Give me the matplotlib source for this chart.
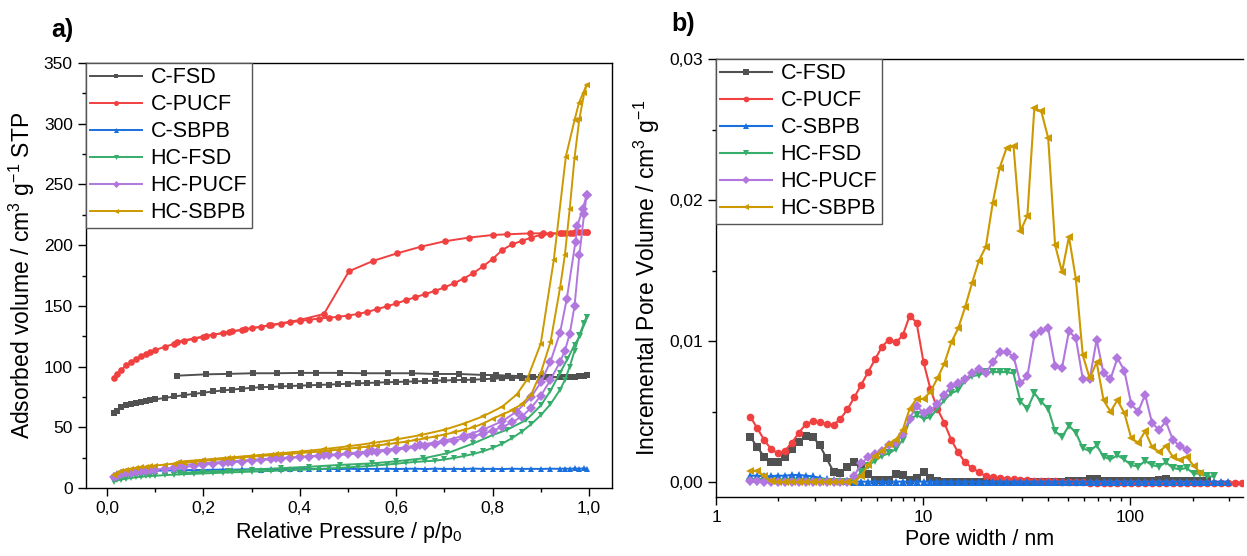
import numpy as np
import matplotlib
matplotlib.use("Agg")
import matplotlib.pyplot as plt
from matplotlib.ticker import MultipleLocator, FuncFormatter, LogLocator, NullFormatter

plt.rcParams['font.family'] = ['Liberation Sans', 'DejaVu Sans']
plt.rcParams['mathtext.default'] = 'regular'

names = ['C-FSD', 'C-PUCF', 'C-SBPB', 'HC-FSD', 'HC-PUCF', 'HC-SBPB']
colors = ['#515151', '#F14040', '#1A6FDF', '#37AD6B', '#B177DE', '#CC9900']
markers = ['s', 'o', '^', 'v', 'D', '<']

# ---- a) isotherms: adsorption branch on a shared p/p0 list
p_ads = [0.014, 0.02, 0.03, 0.04, 0.05, 0.06, 0.07, 0.08, 0.09, 0.10, 0.12, 0.14,
         0.16, 0.18, 0.20, 0.22, 0.24, 0.26, 0.28, 0.30, 0.32, 0.34, 0.36, 0.38,
         0.40, 0.42, 0.44, 0.46, 0.48, 0.50, 0.52, 0.54, 0.56, 0.58, 0.60, 0.62,
         0.64, 0.66, 0.68, 0.70, 0.72, 0.74, 0.76, 0.78, 0.80, 0.82, 0.84, 0.86,
         0.88, 0.90, 0.92, 0.94, 0.95, 0.96, 0.97, 0.98, 0.99, 0.995]

ads_cfsd = [61.5, 63.5, 66.5, 68.2, 69.2, 70, 70.8, 71.6, 72.4, 73, 74.2, 75.4,
            76.5, 77.5, 78.5, 79.5, 80.3, 81.1, 81.8, 82.5, 83, 83.3, 83.6, 84,
            84.3, 84.6, 84.9, 85.2, 85.5, 85.8, 86.1, 86.5, 86.8, 87.1, 87.3, 87.6,
            87.8, 88.1, 88.4, 88.6, 88.8, 89, 89.2, 89.6, 90, 90.3, 90.6, 90.9,
            91.1, 91.3, 91.3, 91.4, 91.4, 91.5, 91.6, 91.9, 92.3, 92.7]
ads_cpucf = [90.3, 94, 97.5, 101, 103.8, 106.3, 108.3, 110.3, 112, 113.6, 116.3, 118.8,
             121, 122.8, 124.5, 126.2, 127.6, 129, 130.3, 131.6, 132.8, 134, 135.3, 136.4,
             137.5, 138.6, 139.5, 140.3, 141, 142, 143.3, 145, 147.3, 149.5, 152, 154.6,
             157.2, 159.6, 162.3, 165.2, 168.6, 172.5, 177, 182.5, 188.6, 196, 200.6, 203.4,
             206.2, 208.5, 209.3, 209.8, 210, 210.3, 210.6, 210.8, 211, 211.2]
ads_csbpb = [10.5, 12, 12.8, 13.2, 13.5, 13.6, 13.8, 14, 14.1, 14.2, 14.4, 14.5,
             14.7, 14.8, 14.9, 15, 15.2, 15.1, 15.3, 15.4, 15.2, 15.5, 15.4, 15.6,
             15.5, 15.7, 15.6, 15.8, 15.5, 15.9, 15.6, 15.8, 15.7, 15.9, 15.6, 15.8,
             15.9, 15.6, 15.9, 15.7, 15.8, 15.6, 16, 15.7, 15.8, 15.6, 15.9, 15.7,
             15.8, 15.7, 15.9, 15.8, 16, 15.8, 16.1, 15.9, 16.2, 16]
ads_hcfsd = [5.2, 6.2, 7, 7.7, 8.3, 8.8, 9.2, 9.6, 9.9, 10.1, 10.6, 11,
             11.4, 11.7, 12, 12.3, 12.6, 12.9, 13.2, 13.5, 13.8, 14.1, 14.4, 14.7,
             15, 15.3, 15.7, 16.1, 16.5, 17, 17.5, 18, 18.6, 19.3, 20, 20.8,
             21.5, 22, 22.5, 23.5, 24.8, 26.3, 28, 30.2, 33, 36.5, 41, 46.3,
             52.5, 60, 69, 81, 89, 100, 113, 126, 136, 141]
ads_hcpucf = [8.8, 10, 11.2, 12, 12.7, 13.3, 13.8, 14.3, 14.8, 15.2, 16, 16.8,
              17.5, 18.2, 19.2, 20, 20.6, 21.2, 21.8, 22.4, 23, 23.6, 24.2, 24.8,
              25.3, 25.8, 26.3, 26.8, 27.2, 27.7, 28.3, 29, 29.8, 30.7, 31.6, 32.6,
              33.7, 34.9, 36.2, 37.6, 39.1, 40.8, 42.6, 44.7, 47.2, 50.2, 54, 58.7,
              66, 76, 89, 104, 113, 127, 150, 192, 226, 241]
ads_hcsbpb = [10.7, 12.3, 13.8, 14.9, 15.8, 16.5, 17.1, 17.6, 18.1, 18.5, 19.3, 20.1,
              20.9, 21.6, 22.3, 23, 23.7, 24.4, 25.1, 25.8, 26.4, 27, 27.6, 28.2,
              28.8, 29.4, 30, 30.8, 31.6, 32.4, 33.2, 34.1, 35, 36, 37, 38.2,
              39.5, 40.9, 42.4, 44, 45.8, 47.8, 50, 53, 57, 60.5, 64, 69,
              77, 95, 120, 165, 192, 230, 272, 304, 325, 332]

# desorption branches (own p lists)
p_des_cfsd = [0.995, 0.967, 0.94, 0.912, 0.884, 0.857, 0.832, 0.808, 0.78, 0.731, 0.682,
              0.632, 0.583, 0.533, 0.483, 0.434, 0.402, 0.353, 0.303, 0.254, 0.205, 0.145]
des_cfsd = [92.7, 91.3, 91.3, 91.2, 91.7, 92.2, 92.5, 93, 93.1, 93.9, 93.9,
            94.5, 94.5, 94.5, 94.8, 94.8, 94.8, 94.5, 94.5, 94, 93.6, 92.5]
p_des_cpucf = [0.995, 0.967, 0.943, 0.905, 0.878, 0.829, 0.801, 0.751, 0.701, 0.652,
               0.602, 0.552, 0.502, 0.45, 0.40, 0.337, 0.286, 0.254, 0.205, 0.146]
des_cpucf = [211, 210.3, 209.7, 209.7, 209.7, 208.9, 208.4, 206.2, 203.2, 198.8,
             193.3, 187, 178.5, 143.3, 138.4, 134, 130.7, 128.5, 125.2, 120.5]
p_des_hcfsd = [0.995, 0.99, 0.981, 0.97, 0.955, 0.94, 0.92, 0.9, 0.87, 0.83, 0.8, 0.76,
               0.705, 0.656, 0.6, 0.55, 0.483, 0.42, 0.36, 0.3, 0.25, 0.2, 0.15]
des_hcfsd = [141, 135, 125, 118, 106, 95, 80, 68, 56, 48, 43.6, 36.7,
             28.5, 24.4, 22, 20.3, 19, 17.5, 16.3, 15.2, 14.2, 13.3, 12.4]
p_des_hcpucf = [0.995, 0.987, 0.976, 0.972, 0.954, 0.94, 0.92, 0.9, 0.88, 0.85, 0.82, 0.78,
                0.74, 0.7, 0.65, 0.6, 0.55, 0.5, 0.45, 0.4, 0.35, 0.3, 0.25, 0.2, 0.15]
des_hcpucf = [241, 230, 216, 203, 156, 128, 104, 87, 75, 63, 55, 48,
              43, 39, 35.5, 32.5, 30.5, 28.5, 27, 25.7, 24.5, 23.2, 21.8, 20.3, 18.8]
p_des_hcsbpb = [0.995, 0.979, 0.970, 0.952, 0.927, 0.9, 0.871, 0.85, 0.82, 0.78, 0.74, 0.7,
                0.65, 0.6, 0.55, 0.5, 0.45, 0.4, 0.35, 0.3, 0.25, 0.2, 0.15]
des_hcsbpb = [332, 317, 303, 273, 188, 119, 89, 77, 67, 59, 53, 48,
              43.5, 40, 37, 34.3, 32, 30, 28.3, 26.6, 25, 23.3, 21.7]

ads_all = [ads_cfsd, ads_cpucf, ads_csbpb, ads_hcfsd, ads_hcpucf, ads_hcsbpb]
des_all = [(p_des_cfsd, des_cfsd), (p_des_cpucf, des_cpucf), None,
           (p_des_hcfsd, des_hcfsd), (p_des_hcpucf, des_hcpucf), (p_des_hcsbpb, des_hcsbpb)]

# ---- b) pore size distribution
pore_w = [1.466, 1.583, 1.710, 1.847, 1.995, 2.154, 2.326, 2.513, 2.714, 2.931,
          3.165, 3.418, 3.692, 3.987, 4.306, 4.651, 5.023, 5.425, 5.859, 6.328,
          6.834, 7.381, 7.971, 8.609, 9.298, 10.04, 10.84, 11.71, 12.65, 13.66,
          14.76, 15.94, 17.21, 18.59, 20.08, 21.68, 23.42, 25.29, 27.32, 29.50,
          31.86, 34.41, 37.16, 40.14, 43.35, 46.82, 50.56, 54.61, 58.98, 63.69,
          68.79, 74.29, 80.24, 86.66, 93.59, 101.1, 109.2, 117.9, 127.3, 137.5,
          148.5, 160.4, 173.2, 187.1, 202.1, 218.2, 235.7, 254.5, 274.9, 296.9,
          320.7, 346.3]

psd_cfsd = [0.00321, 0.00246, 0.0018, 0.0014, 0.0014, 0.00175, 0.00232, 0.00286, 0.00326, 0.00321,
            0.00262, 0.00168, 0.00073, 0.00062, 0.00109, 0.00144, 0.0012, 0.00057, 0.00014, 0.00018,
            0.00018, 0.0006, 0.0005, 0.00014, 0.0003, 0.00073, 0.0003, 0.00005, 0.00003, 0.00003,
            0.00003, 0.00003, 0.00003, 0.00003, 0.00003, 0.00003, 0.00003, 0.00003, 0.00003, 0.00003,
            0.00003, 0.00003, 0.00003, 0.00003, 0.00003, 0.00003, 0.00005, 0.00008, 0.0001, 0.00025,
            0.00025, 0.0001, 0.00005, 0.00005, 0.00005, 0.00005, 0.00005, 0.00008, 0.0001, 0.00015,
            0.0002, 0.0001, 0.00008, 0.00008, 0.00008, 0.00008, 0.00008]
psd_cpucf = [0.00463, 0.00381, 0.00298, 0.00232, 0.00203, 0.00222, 0.00279, 0.0035, 0.00411, 0.0043,
             0.00423, 0.00409, 0.00407, 0.00447, 0.00515, 0.006, 0.0069, 0.0078, 0.0087, 0.0096,
             0.0101, 0.0099, 0.0104, 0.0118, 0.0113, 0.0085, 0.0066, 0.0052, 0.0042, 0.0030,
             0.0021, 0.0014, 0.0010, 0.0007, 0.0004, 0.00035, 0.0003, 0.00025, 0.0002, 0.00015,
             0.00012, 0.0001, 0.00008, 0.00006, 0.00005, 0.00003, 0.00002, 0.0, -0.00002, -0.00004,
             -0.00004, -0.00004, -0.00004, -0.00004, -0.00004, -0.00004, -0.00004, -0.00004, -0.00004, -0.00004,
             -0.00004, -0.00004, -0.00004, -0.00004, -0.00004, -0.00004, -0.00004, -0.00004, -0.00004, -0.00004,
             -0.00004, -0.00004]
psd_csbpb = [0.00045, 0.00045, 0.0004, 0.00042, 0.00045, 0.00045, 0.0005, 0.0005, 0.00045, 0.0004,
             0.0003, 0.0002, 0.00012, 0.0001, 0.00005, 0.00003, 0.00003, 0.00003, 0.00003, 0.00003,
             0.00003, 0.00003, 0.00003, 0.00003, 0.00003, 0.00003, 0.00003, 0.00003, 0.00003, 0.00003,
             0.00003, 0.00003, 0.00003, 0.00003, 0.00003, 0.00003, 0.00003, 0.00003, 0.00003, 0.00003,
             0.00003, 0.00003, 0.00003, 0.00003, 0.00003, 0.00003, 0.00003, 0.00003, 0.00003, 0.00003,
             0.00003, 0.00003, 0.00003, 0.00003, 0.00003, 0.00003, 0.00003, 0.00003, 0.00003, 0.00003,
             0.00003, 0.00003, 0.00003, 0.00003, 0.00003, 0.00003, 0.00003, 0.00003, 0.00003, 0.00003]
psd_hcfsd = [0.00001, 0.00001, 0.00001, 0.00001, 0.00001, 0.00001, 0.00001, 0.00001, 0.00001, 0.00001,
             0.00001, 0.00001, 0.00001, 0.00001, 0.00001, 0.0001, 0.00073, 0.00116, 0.00151, 0.00187,
             0.00203, 0.00234, 0.0030, 0.0044, 0.00475, 0.0045, 0.0046, 0.0052, 0.0058, 0.0063,
             0.0065, 0.0072, 0.0075, 0.0076, 0.0078, 0.0078, 0.0078, 0.0078, 0.0077, 0.0057,
             0.0052, 0.0063, 0.0057, 0.0052, 0.0036, 0.0032, 0.0040, 0.0035, 0.0024, 0.0022,
             0.0026, 0.0018, 0.0016, 0.0019, 0.0016, 0.0012, 0.0011, 0.0015, 0.0012, 0.0011,
             0.0014, 0.0010, 0.0009, 0.0010, 0.0006, 0.0006, 0.0004, 0.0004]
psd_hcpucf = [0.0001, 0.0001, 0.00003, 0.00001, 0.00001, 0.00001, 0.00001, 0.00001, 0.00001, 0.00001,
              0.00001, 0.00001, 0.00001, 0.00001, 0.00001, 0.00043, 0.00132, 0.00175, 0.00199, 0.00222,
              0.00262, 0.00274, 0.0034, 0.0045, 0.0054, 0.0049, 0.0051, 0.0055, 0.0062, 0.0068,
              0.0070, 0.0073, 0.0077, 0.0080, 0.0077, 0.0085, 0.0092, 0.0092, 0.0089, 0.0070,
              0.0075, 0.0104, 0.0107, 0.0109, 0.0082, 0.0081, 0.0107, 0.0102, 0.0073, 0.0073,
              0.0101, 0.0077, 0.0073, 0.0088, 0.0079, 0.0055, 0.0050, 0.0062, 0.0042, 0.0037,
              0.0043, 0.0030, 0.00255, 0.0023]
psd_hcsbpb = [0.0008, 0.0008, 0.00043, 0.00005, 0.0, 0.0, 0.0, 0.0, 0.0, 0.0,
              0.0, 0.0, 0.0, 0.0, 0.0, 0.0, 0.00045, 0.0012, 0.00187, 0.00222,
              0.0027, 0.003, 0.0037, 0.0052, 0.0059, 0.0059, 0.0064, 0.00735, 0.0084, 0.0099,
              0.0109, 0.0124, 0.0141, 0.0157, 0.0167, 0.0198, 0.0223, 0.0237, 0.0238, 0.0178,
              0.0189, 0.0265, 0.0263, 0.0244, 0.0168, 0.0149, 0.0174, 0.0144, 0.0090, 0.00735,
              0.0085, 0.0058, 0.0050, 0.0058, 0.0049, 0.0031, 0.0028, 0.0036, 0.0025, 0.00215,
              0.00255, 0.0018, 0.00156, 0.0018, 0.00116, 0.00066]
psd_all = [psd_cfsd, psd_cpucf, psd_csbpb, psd_hcfsd, psd_hcpucf, psd_hcsbpb]


def comma(fmt):
    return FuncFormatter(lambda v, pos: format(v, fmt).replace('.', ','))


def style_axis(ax):
    ax.tick_params(which='both', direction='out', top=False, right=False, labelsize=12.5, width=1)
    ax.tick_params(which='major', length=6)
    ax.tick_params(which='minor', length=3)
    for s in ax.spines.values():
        s.set_linewidth(1)


def add_legend(ax):
    leg = ax.legend(loc='upper left', bbox_to_anchor=(0, 1), borderaxespad=0, fontsize=15.5,
                    frameon=True, fancybox=False, edgecolor='#555555', framealpha=1,
                    handlelength=2.4, handletextpad=0.4, labelspacing=0.28, borderpad=0.2,
                    markerscale=0.75)
    leg.get_frame().set_linewidth(1)


fig = plt.figure(figsize=(12.47, 5.56), dpi=100)
ax1 = fig.add_axes([86 / 1247, 1 - 488 / 556, 526 / 1247, 425 / 556])
ax2 = fig.add_axes([716 / 1247, 1 - 497 / 556, 527 / 1247, 438 / 556])

for k in range(6):
    ax1.plot(p_ads, ads_all[k], color=colors[k], marker=markers[k], ms=4.8, mew=0,
             lw=1.4, label=names[k])
    if des_all[k] is not None:
        pd_, vd_ = des_all[k]
        ax1.plot(pd_, vd_, color=colors[k], marker=markers[k], ms=4.8, mew=0, lw=1.4)

ax1.set_xlim(-0.0436, 1.0477)
ax1.set_ylim(0, 350)
ax1.xaxis.set_major_locator(MultipleLocator(0.2))
ax1.xaxis.set_minor_locator(MultipleLocator(0.1))
ax1.yaxis.set_major_locator(MultipleLocator(50))
ax1.yaxis.set_minor_locator(MultipleLocator(25))
ax1.xaxis.set_major_formatter(comma('.1f'))
style_axis(ax1)
ax1.set_xlabel('Relative Pressure / p/p$_0$', fontsize=15.5, labelpad=3)
ax1.set_ylabel('Adsorbed volume / cm$^3$ g$^{-1}$ STP', fontsize=16.5, labelpad=5)
add_legend(ax1)

for k in range(6):
    v = psd_all[k]
    ax2.plot(pore_w[:len(v)], v, color=colors[k], marker=markers[k], ms=5.5, mew=0,
             lw=1.5, label=names[k])

ax2.set_xscale('log')
ax2.set_xlim(1, 350)
ax2.set_ylim(-0.00106, 0.03)
ax2.xaxis.set_major_locator(LogLocator(base=10, numticks=10))
ax2.xaxis.set_minor_locator(LogLocator(base=10, subs=np.arange(2, 10), numticks=20))
ax2.xaxis.set_major_formatter(FuncFormatter(lambda v, pos: f'{v:g}'))
ax2.xaxis.set_minor_formatter(NullFormatter())
ax2.yaxis.set_major_locator(MultipleLocator(0.01))
ax2.yaxis.set_minor_locator(MultipleLocator(0.005))
ax2.yaxis.set_major_formatter(comma('.2f'))
style_axis(ax2)
ax2.spines['right'].set_visible(False)
ax2.set_xlabel('Pore width / nm', fontsize=15.5, labelpad=3)
ax2.set_ylabel('Incremental Pore Volume / cm$^3$ g$^{-1}$', fontsize=16.5, labelpad=5)
add_legend(ax2)

fig.text(62 / 1247, 1 - 30 / 556, 'a)', fontsize=18, fontweight='bold', ha='center', va='center')
fig.text(683 / 1247, 1 - 24 / 556, 'b)', fontsize=18, fontweight='bold', ha='center', va='center')

fig.savefig('out.png', dpi=100)
